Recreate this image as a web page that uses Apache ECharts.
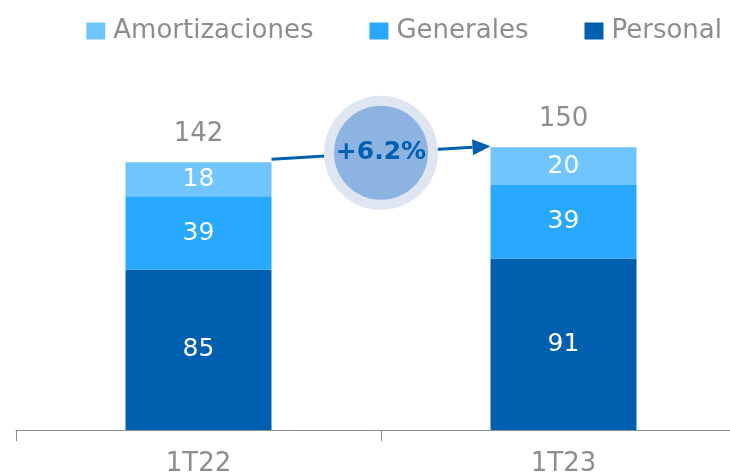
<!DOCTYPE html>
<html>
	<head>
		<meta charset="utf-8">
		<title>Gastos</title>
		<script src="https://cdn.jsdelivr.net/npm/echarts@6/dist/echarts.min.js"></script>
	</head>
	<body style="margin:0;padding:0">
		<div id="chart" style="width: 730px;height:476px;"></div>
	</body>
	<script type="text/javascript">
var categories = ['1T22', '1T23'];
var personal = [85, 91];
var generales = [39, 39];
var amortizaciones = [18, 20];
var totals = [142, 150];
var growthLabel = '+6.2%';

var grey = '#8b8e91';
var font = 'DejaVu Sans';
var barW = 146;

var myChart = echarts.init(document.getElementById('chart'));

function inLabel() {
    return { show: true, position: 'inside', color: '#fff', fontSize: 25, fontFamily: font };
}

var option = {
    animation: false,
    backgroundColor: '#fff',
    textStyle: { fontFamily: font },
    legend: {
        data: ['Amortizaciones', 'Generales', 'Personal'],
        right: 3,
        top: 13,
        itemWidth: 19,
        itemHeight: 17,
        itemGap: 56,
        icon: 'rect',
        textStyle: { color: grey, fontSize: 26, fontFamily: font, padding: [0, 0, 0, 3] }
    },
    grid: {
        left: 16,
        width: 730,
        top: 53,
        bottom: 46,
        outerBoundsMode: 'none',
        containLabel: false
    },
    xAxis: {
        type: 'category',
        data: categories,
        axisLine: { lineStyle: { color: '#8c8c8c', width: 1 } },
        axisTick: { show: true, length: 11, lineStyle: { color: '#8c8c8c' } },
        axisLabel: { color: grey, fontSize: 26, margin: 21, fontFamily: font }
    },
    yAxis: {
        type: 'value',
        min: 0,
        max: 200,
        show: false,
        splitLine: { show: false }
    },
    series: [
        {
            name: 'Personal', type: 'bar', stack: 'a', data: personal,
            barWidth: barW, itemStyle: { color: '#005fae' }, label: inLabel()
        },
        {
            name: 'Generales', type: 'bar', stack: 'a', data: generales,
            barWidth: barW, itemStyle: { color: '#29a8ff' }, label: inLabel()
        },
        {
            name: 'Amortizaciones', type: 'bar', stack: 'a', data: amortizaciones,
            barWidth: barW, itemStyle: { color: '#70c5ff' }, label: inLabel()
        },
        {
            name: 'Total', type: 'line', data: totals,
            symbol: 'circle', symbolSize: 1, itemStyle: { color: 'rgba(0,0,0,0)' },
            lineStyle: { width: 0, opacity: 0 },
            label: { show: true, position: 'top', distance: 15, color: grey, fontSize: 26, fontFamily: font }
        }
    ]
};
myChart.setOption(option);

// flecha y círculo de crecimiento
var p1 = myChart.convertToPixel({ gridIndex: 0 }, [0, totals[0]]);
var p2 = myChart.convertToPixel({ gridIndex: 0 }, [1, totals[1]]);
var x1 = p1[0] + barW / 2, y1 = p1[1] - 3;
var x2 = p2[0] - barW / 2, y2 = p2[1] - 1;
var ang = Math.atan2(y2 - y1, x2 - x1);
var hl = 18, hw = 8;
var bx = x2 - hl * Math.cos(ang), by = y2 - hl * Math.sin(ang);
var cx = (p1[0] + p2[0]) / 2, cy = (y1 + y2) / 2;

myChart.setOption({
    graphic: [
        {
            type: 'line', z: 10,
            shape: { x1: x1, y1: y1, x2: bx, y2: by },
            style: { stroke: '#005fae', lineWidth: 3 }
        },
        {
            type: 'polygon', z: 10,
            shape: { points: [[x2, y2],
                [bx + hw * Math.sin(ang), by - hw * Math.cos(ang)],
                [bx - hw * Math.sin(ang), by + hw * Math.cos(ang)]] },
            style: { fill: '#005fae' }
        },
        {
            type: 'circle', z: 11,
            shape: { cx: cx, cy: cy, r: 57 },
            style: { fill: '#dfe6f2' }
        },
        {
            type: 'circle', z: 12,
            shape: { cx: cx, cy: cy, r: 47 },
            style: { fill: '#8db3e2' }
        },
        {
            type: 'text', z: 13,
            x: cx, y: cy,
            style: {
                text: growthLabel, fill: '#005fae', fontSize: 25, fontWeight: 'bold',
                fontFamily: font, align: 'center', verticalAlign: 'middle'
            }
        }
    ]
});
	</script>
</html>
